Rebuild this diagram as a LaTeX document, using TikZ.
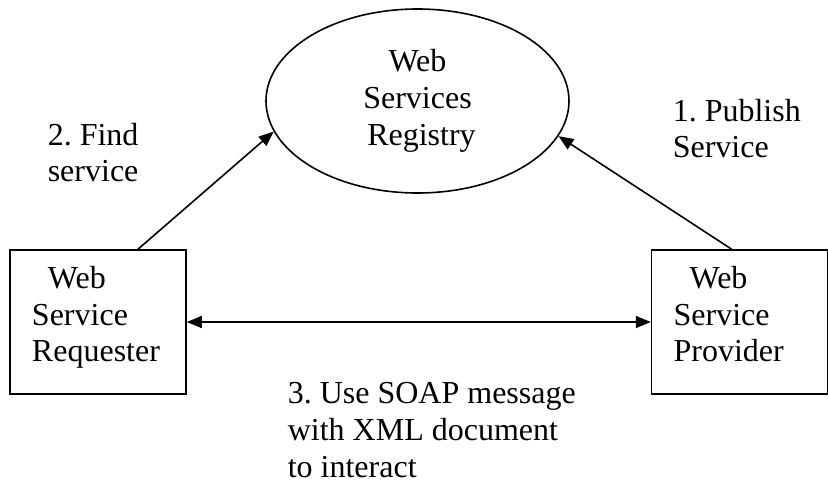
\documentclass[tikz,border=0pt]{standalone}
\usepackage{fontspec}
\setmainfont{Liberation Serif}
\usetikzlibrary{arrows.meta,positioning,shapes.geometric}
\frenchspacing

\newcommand{\boxfoot}{\rule[-16bp]{0pt}{16bp}}
\tikzset{
  actorbox/.style={draw, rectangle, minimum width=176bp, minimum height=144bp, inner xsep=22bp, inner ysep=0pt, text width=132bp, align=left},
  notelabel/.style={anchor=base west, inner sep=0pt, align=left}
}

\begin{document}
\begin{tikzpicture}[x=1bp, y=-1bp, >={Triangle[length=15bp,width=12bp]}, font=\fontsize{32bp}{36.8bp}\selectfont\frenchspacing, line width=1.6bp]
\useasboundingbox (0,0) rectangle (828,489);

\node(requester)[actorbox] at (98,322) {\hspace*{16bp}Web\\Service\\Requester\boxfoot};
\node(provider)[actorbox,right=464bp of requester] {\hspace*{16bp}Web\\Service\\Provider\boxfoot};
\node(registry)[draw,ellipse,minimum width=303bp,minimum height=184bp,inner sep=0pt,align=center] at (417.5,101) {Web\\Services\\\hspace*{8bp}Registry};

% Arrows
\draw[->] ([xshift=40bp]requester.north) -- (registry.192.5);
\draw[->] ([xshift=-8bp]provider.north) -- (registry.346);
\draw[<->] (requester) -- (provider);

% Step labels (base = last line)
\node(findlabel)[notelabel] at (47,182) {2. Find\\service};
\node(publishlabel)[notelabel] at (672,158) {1. Publish\\Service};
\node(soaplabel)[notelabel] at (287,477) {3. Use SOAP message\\with XML document\\to interact};
\end{tikzpicture}
\end{document}
